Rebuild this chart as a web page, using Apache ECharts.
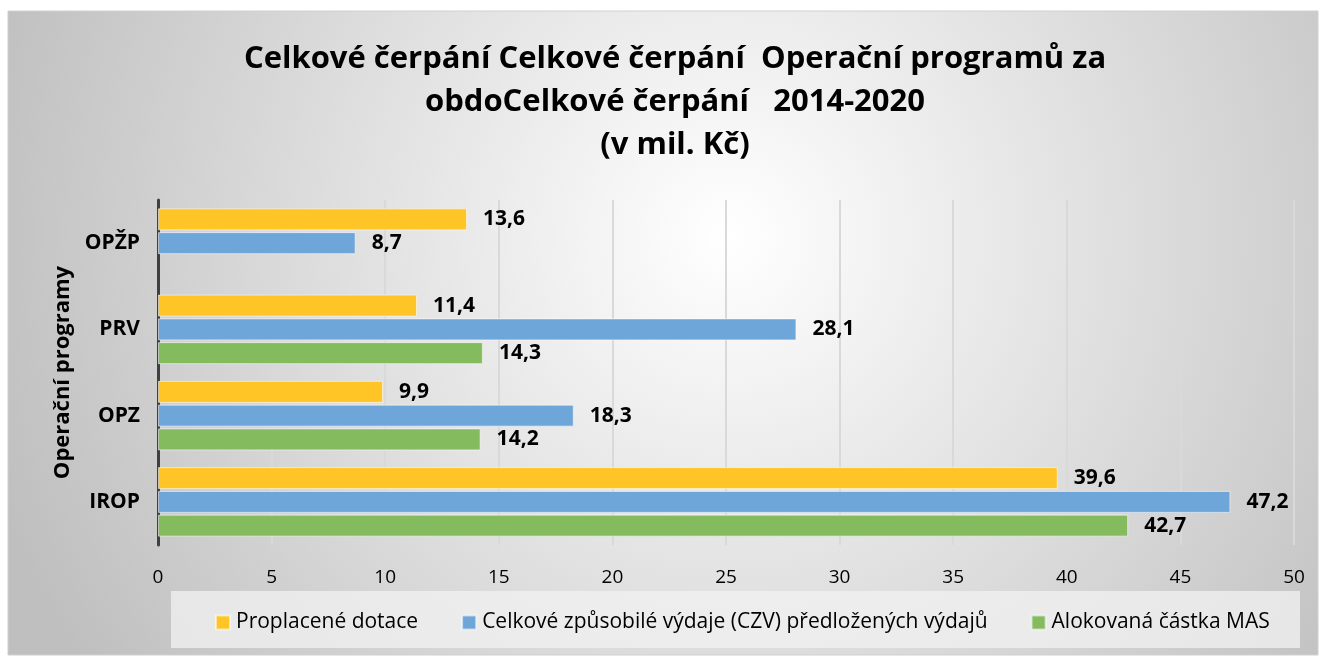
<!DOCTYPE html>
<html>
<head>
<meta charset="utf-8">
<script src="https://cdn.jsdelivr.net/npm/echarts@6/dist/echarts.min.js"></script>
<style>
  html, body { margin: 0; padding: 0; background: #fff; }
  #chart { width: 1322px; height: 659px; }
</style>
</head>
<body>
<div id="chart"></div>
<script>
const categories = ['IROP', 'OPZ', 'PRV', 'OPŽP'];
const proplacene = [39.6, 9.9, 11.4, 13.6];
const czv = [47.2, 18.3, 28.1, 8.7];
const alokace = [42.7, 14.2, 14.3, null];
const xTicks = { min: 0, max: 50, interval: 5 };

const seriesNames = [
    'Proplacené dotace',
    'Celkové způsobilé výdaje (CZV) předložených výdajů',
    'Alokovaná částka MAS'
];
const colors = ['#ffc425', '#6fa6d9', '#84bb5f'];

const chart = echarts.init(document.getElementById('chart'));
const FONT = 'Open Sans';

function mkSeries(name, data, color) {
    return {
        name,
        type: 'bar',
        data: data.map((v) => (v == null ? '-' : v)),
        barWidth: 22,
        barGap: '8%',
        itemStyle: { color, borderColor: 'rgba(255,255,255,0.55)', borderWidth: 1 },
        label: {
            show: true,
            position: 'right',
            distance: 16,
            color: '#000',
            fontFamily: FONT,
            fontWeight: 'bold',
            fontSize: 21,
            formatter: (p) => String(p.value).replace('.', ',')
        }
    };
}

chart.setOption({
    backgroundColor: '#fff',
    animation: false,
    graphic: [
        {
            type: 'rect',
            z: -10,
            shape: { x: 8, y: 11, width: 1310, height: 644 },
            style: {
                fill: {
                    type: 'radial', x: 0.55, y: 0.35, r: 1.2,
                    colorStops: [
                        { offset: 0, color: '#ffffff' },
                        { offset: 1, color: '#bfbfbf' }
                    ]
                },
                stroke: '#d0d0d0',
                lineWidth: 1
            }
        },
        {
            type: 'rect',
            z: -5,
            shape: { x: 171, y: 591, width: 1129, height: 57 },
            style: { fill: 'rgba(242,242,242,0.75)' }
        }
    ],
    title: {
        text: 'Celkové čerpání Celkové čerpání  Operační programů za\nobdoCelkové čerpání   2014-2020\n(v mil. Kč)',
        left: 670,
        top: 33,
        textAlign: 'center',
        textStyle: {
            fontFamily: FONT,
            fontWeight: 'bold',
            fontSize: 31,
            lineHeight: 43,
            color: '#000'
        }
    },
    legend: {
        data: seriesNames,
        top: 612,
        left: 215,
        padding: 0,
        itemWidth: 14,
        itemHeight: 14,
        itemGap: 43,
        icon: 'rect',
        textStyle: { fontFamily: FONT, fontSize: 21, color: '#000', padding: [0, 0, 0, 1] }
    },
    grid: { left: 158, right: 28, top: 200, bottom: 114 },
    xAxis: {
        type: 'value',
        min: xTicks.min,
        max: xTicks.max,
        interval: xTicks.interval,
        axisLine: { show: false },
        axisTick: { show: false },
        axisLabel: { color: '#000', fontFamily: FONT, fontSize: 19, margin: 23 },
        splitLine: { lineStyle: { color: '#d9d9d9', width: 2 } }
    },
    yAxis: {
        type: 'category',
        data: categories,
        name: 'Operační programy',
        nameLocation: 'middle',
        nameRotate: 90,
        nameGap: 82,
        nameTextStyle: { fontFamily: FONT, fontWeight: 'bold', fontSize: 22, color: '#000' },
        axisLine: { show: true, lineStyle: { color: '#404040', width: 3 } },
        axisTick: { show: false },
        axisLabel: { color: '#000', fontFamily: FONT, fontWeight: 'bold', fontSize: 21, margin: 18 }
    },
    series: [
        mkSeries(seriesNames[0], proplacene, colors[0]),
        mkSeries(seriesNames[1], czv, colors[1]),
        mkSeries(seriesNames[2], alokace, colors[2])
    ]
});
</script>
</body>
</html>
